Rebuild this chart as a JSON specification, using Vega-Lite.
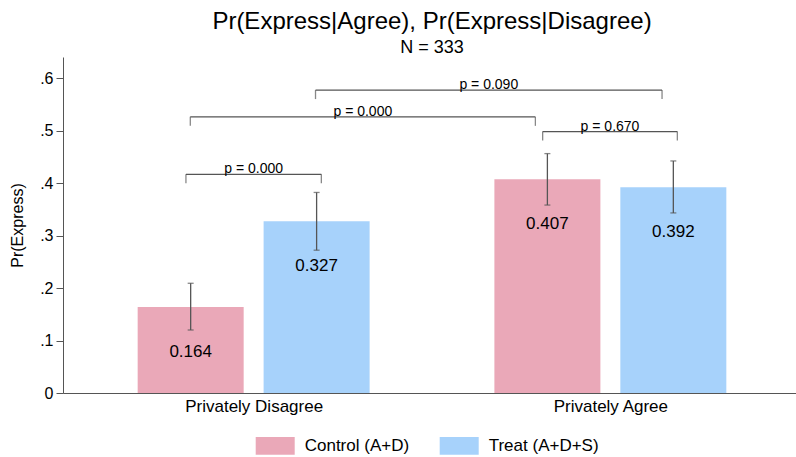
{
  "$schema": "https://vega.github.io/schema/vega-lite/v6.json",
  "width": 738,
  "height": 336,
  "autosize": "none",
  "padding": {"left": 63, "top": 57, "right": 0, "bottom": 64},
  "background": "white",
  "config": {
    "font": "Liberation Sans",
    "view": {"stroke": null},
    "axis": {"domainColor": "#555555", "tickColor": "#555555", "labelColor": "black", "titleColor": "black", "grid": false, "titleFontWeight": "normal"}
  },
  "title": {
    "text": "Pr(Express|Agree), Pr(Express|Disagree)",
    "subtitle": "N = 333",
    "fontSize": 24,
    "subtitleFontSize": 18,
    "fontWeight": "normal",
    "color": "black",
    "subtitleColor": "black",
    "anchor": "middle",
    "offset": 0,
    "subtitlePadding": 5
  },
  "datasets": {
    "bars": [
      {"question": "Privately Disagree", "group": "Control (A+D)", "pos": 16.85, "value": 0.164, "lo": 0.120, "hi": 0.209},
      {"question": "Privately Disagree", "group": "Treat (A+D+S)", "pos": 34.15, "value": 0.327, "lo": 0.272, "hi": 0.382},
      {"question": "Privately Agree", "group": "Control (A+D)", "pos": 65.85, "value": 0.407, "lo": 0.358, "hi": 0.456},
      {"question": "Privately Agree", "group": "Treat (A+D+S)", "pos": 83.15, "value": 0.392, "lo": 0.343, "hi": 0.442}
    ],
    "brackets": [
      {"from": 16.2, "to": 34.8, "mid": 25.5, "level": 0.4166, "label": "p = 0.000"},
      {"from": 16.8, "to": 64.2, "mid": 40.5, "level": 0.526, "label": "p = 0.000"},
      {"from": 65.2, "to": 83.7, "mid": 74.45, "level": 0.498, "label": "p = 0.670"},
      {"from": 34.0, "to": 81.6, "mid": 57.8, "level": 0.577, "label": "p = 0.090"}
    ]
  },
  "layer": [
    {
      "data": {"name": "bars"},
      "mark": {"type": "bar", "width": 106},
      "encoding": {
        "x": {
          "field": "pos", "type": "quantitative",
          "scale": {"domain": [0, 100], "nice": false, "zero": false},
          "axis": {
            "title": null, "values": [25.5, 74.5], "ticks": false,
            "labelExpr": "datum.value < 50 ? 'Privately Disagree' : 'Privately Agree'",
            "labelFontSize": 17, "labelPadding": 5
          }
        },
        "y": {
          "field": "value", "type": "quantitative",
          "scale": {"domain": [0, 0.64], "nice": false},
          "axis": {
            "title": "Pr(Express)", "titleFontSize": 16, "titlePadding": 14,
            "values": [0, 0.1, 0.2, 0.3, 0.4, 0.5, 0.6],
            "labelExpr": "datum.value == 0 ? '0' : substring(format(datum.value, '.1f'), 1)",
            "labelFontSize": 16, "tickSize": 7, "labelPadding": 3
          }
        },
        "color": {
          "field": "group", "type": "nominal",
          "scale": {"domain": ["Control (A+D)", "Treat (A+D+S)"], "range": ["#eaa8b8", "#a7d2fb"]},
          "legend": {
            "orient": "none", "legendX": 192.7, "legendY": 369,
            "direction": "horizontal", "title": null,
            "symbolType": "M-1,-0.45H1V0.45H-1Z", "symbolSize": 1521,
            "symbolStrokeWidth": 0, "symbolOpacity": 1,
            "labelFontSize": 17, "labelOffset": 10, "columnPadding": 30, "labelColor": "black"
          }
        }
      }
    },
    {
      "data": {"name": "bars"},
      "mark": {"type": "rule", "color": "#555555", "strokeWidth": 1.3},
      "encoding": {
        "x": {"field": "pos", "type": "quantitative"},
        "y": {"field": "lo", "type": "quantitative"},
        "y2": {"field": "hi"}
      }
    },
    {
      "data": {"name": "bars"},
      "mark": {"type": "tick", "orient": "horizontal", "color": "#555555", "size": 6, "thickness": 1.3},
      "encoding": {
        "x": {"field": "pos", "type": "quantitative"},
        "y": {"field": "lo", "type": "quantitative"}
      }
    },
    {
      "data": {"name": "bars"},
      "mark": {"type": "tick", "orient": "horizontal", "color": "#555555", "size": 6, "thickness": 1.3},
      "encoding": {
        "x": {"field": "pos", "type": "quantitative"},
        "y": {"field": "hi", "type": "quantitative"}
      }
    },
    {
      "data": {"name": "bars"},
      "mark": {"type": "text", "fontSize": 17, "dy": 45, "baseline": "middle", "color": "black"},
      "encoding": {
        "x": {"field": "pos", "type": "quantitative"},
        "y": {"field": "value", "type": "quantitative"},
        "text": {"field": "value", "format": ".3f"}
      }
    },
    {
      "data": {"name": "brackets"},
      "mark": {"type": "rule", "color": "#555555", "strokeWidth": 1.2},
      "encoding": {
        "x": {"field": "from", "type": "quantitative"},
        "x2": {"field": "to"},
        "y": {"field": "level", "type": "quantitative"}
      }
    },
    {
      "data": {"name": "brackets"},
      "mark": {"type": "tick", "orient": "vertical", "color": "#555555", "size": 9, "thickness": 1.3, "yOffset": 4.5},
      "encoding": {
        "x": {"field": "from", "type": "quantitative"},
        "y": {"field": "level", "type": "quantitative"}
      }
    },
    {
      "data": {"name": "brackets"},
      "mark": {"type": "tick", "orient": "vertical", "color": "#555555", "size": 9, "thickness": 1.3, "yOffset": 4.5},
      "encoding": {
        "x": {"field": "to", "type": "quantitative"},
        "y": {"field": "level", "type": "quantitative"}
      }
    },
    {
      "data": {"name": "brackets"},
      "mark": {"type": "text", "fontSize": 14, "baseline": "alphabetic", "dy": -1, "color": "black"},
      "encoding": {
        "x": {"field": "mid", "type": "quantitative"},
        "y": {"field": "level", "type": "quantitative"},
        "text": {"field": "label"}
      }
    }
  ]
}
